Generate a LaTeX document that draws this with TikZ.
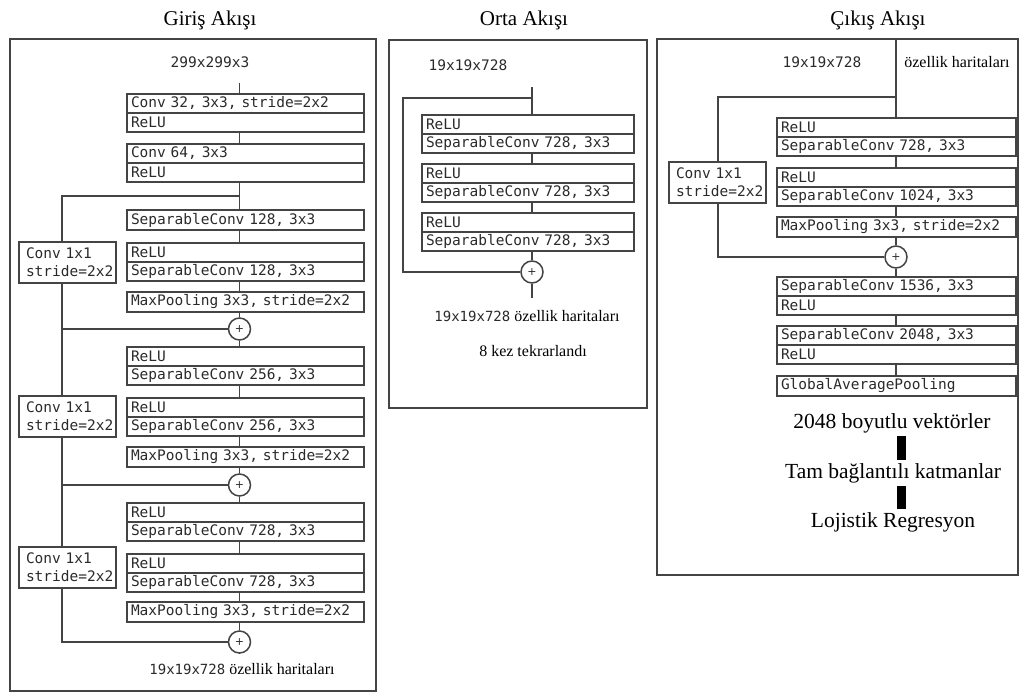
\documentclass[tikz,border=0pt]{standalone}
\usepackage{fontspec}
\setmainfont{Liberation Serif}
\newfontfamily\monof{DejaVu Sans Mono}
\newfontfamily\plusf{DejaVu Sans}
\usetikzlibrary{positioning}
\definecolor{lc}{HTML}{444444}
\definecolor{tc}{HTML}{2a2a2a}

\begin{document}
\begin{tikzpicture}[x=1pt,y=-1pt,
  ln/.style={draw=lc,line width=1.6pt},
  frame/.style={draw=lc,line width=1.6pt},
  lyr/.style={draw=lc,line width=1.5pt,rectangle,outer sep=0pt,inner xsep=4pt,inner ysep=0pt,
    minimum height=19pt,text width=#1,align=left,text=tc,
    font=\fontsize{14.5}{16}\selectfont\monof},
  lw/.style={lyr=229pt},
  mw/.style={lyr=204pt},
  rw/.style={lyr=231pt},
  one/.style={minimum height=20pt},
  sk/.style={draw=lc,line width=1.5pt,rectangle,outer sep=0pt,anchor=north west,
    minimum height=41pt,inner xsep=7pt,text width=83pt,align=left,text=tc,
    font=\fontsize{14.5}{18}\selectfont\monof},
  addn/.style={circle,draw=lc,line width=1.5pt,minimum size=22pt,inner sep=0pt,fill=white,
    text=tc,font=\fontsize{11}{11}\selectfont\plusf},
  ttl/.style={font=\fontsize{21}{24}\selectfont},
  lbl/.style={font=\fontsize{16}{18}\selectfont},
  big/.style={font=\fontsize{21.5}{24}\selectfont,inner sep=3pt},
  mono/.style={font=\fontsize{14.5}{16}\selectfont\monof,text=tc},
  bar/.style={draw=black,line width=9pt}
]
\useasboundingbox (0,0) rectangle (1021,694);

% ---------- titles and panel frames ----------
\node[ttl] (t1) at (210,20) {Giriş Akışı};
\node[ttl] (t2) at (524,20) {Orta Akışı};
\node[ttl] (t3) at (878,20) {Çıkış Akışı};
\draw[frame] (10,39) rectangle (376,691);
\draw[frame] (389,40) rectangle (647,408);
\draw[frame] (657,39) rectangle (1018,575);

% ---------- entry flow ----------
\coordinate (ax) at (239.5,0);
\coordinate (sx) at (62,0);
\node[mono] (in1) at (210,62) {299x299x3};
\coordinate (s1) at (239.5,83);

\node[lw,anchor=north west] (b1a) at (127,94) {Conv 32, 3x3, stride=2x2};
\node[lw,below=0pt of b1a] (b1b) {ReLU};
\node[lw,anchor=north west] (b2a) at (127,144) {Conv 64, 3x3};
\node[lw,below=0pt of b2a] (b2b) {ReLU};
\node[lw,one,anchor=north west] (b3) at (127,210) {SeparableConv 128, 3x3};
\node[lw,anchor=north west] (b4a) at (127,243) {ReLU};
\node[lw,below=0pt of b4a] (b4b) {SeparableConv 128, 3x3};
\node[lw,one,anchor=north west] (b5) at (127,292) {MaxPooling 3x3, stride=2x2};
\node[addn] (p1) at (239.5,329) {+};
\node[lw,anchor=north west] (b6a) at (127,347) {ReLU};
\node[lw,below=0pt of b6a] (b6b) {SeparableConv 256, 3x3};
\node[lw,anchor=north west] (b7a) at (127,398) {ReLU};
\node[lw,below=0pt of b7a] (b7b) {SeparableConv 256, 3x3};
\node[lw,one,anchor=north west] (b8) at (127,447) {MaxPooling 3x3, stride=2x2};
\node[addn] (p2) at (239.5,485) {+};
\node[lw,anchor=north west] (b9a) at (127,503) {ReLU};
\node[lw,below=0pt of b9a] (b9b) {SeparableConv 728, 3x3};
\node[lw,anchor=north west] (b10a) at (127,554) {ReLU};
\node[lw,below=0pt of b10a] (b10b) {SeparableConv 728, 3x3};
\node[lw,one,anchor=north west] (b11) at (127,602) {MaxPooling 3x3, stride=2x2};
\node[addn] (p3) at (239.5,642) {+};
\coordinate (e1) at (239.5,653);
\node[lbl] (o1) at (242,669) {{\fontsize{14}{16}\selectfont\monof\color{tc}19x19x728} özellik haritaları};

\node[sk] (cv1) at (19,242) {Conv 1x1\\stride=2x2};
\node[sk] (cv2) at (19,396) {Conv 1x1\\stride=2x2};
\node[sk] (cv3) at (19,547) {Conv 1x1\\stride=2x2};
\coordinate (j1) at (239.5,196);

\draw[ln] (s1) -- (b1a.north -| ax);
\draw[ln] (b1b.south -| ax) -- (b2a.north -| ax);
\draw[ln] (b2b.south -| ax) -- (b3.north -| ax);
\draw[ln] (b3.south -| ax) -- (b4a.north -| ax);
\draw[ln] (b4b.south -| ax) -- (b5.north -| ax);
\draw[ln] (b5.south -| ax) -- (p1.north);
\draw[ln] (p1.south) -- (b6a.north -| ax);
\draw[ln] (b6b.south -| ax) -- (b7a.north -| ax);
\draw[ln] (b7b.south -| ax) -- (b8.north -| ax);
\draw[ln] (b8.south -| ax) -- (p2.north);
\draw[ln] (p2.south) -- (b9a.north -| ax);
\draw[ln] (b9b.south -| ax) -- (b10a.north -| ax);
\draw[ln] (b10b.south -| ax) -- (b11.north -| ax);
\draw[ln] (b11.south -| ax) -- (p3.north);
\draw[ln] (p3.south) -- (e1);

\draw[ln] (j1) -- (j1 -| sx) -- (cv1.north -| sx);
\draw[ln] (cv1.south -| sx) -- (cv2.north -| sx);
\draw[ln] (p1.west) -- (p1.west -| sx);
\draw[ln] (cv2.south -| sx) -- (cv3.north -| sx);
\draw[ln] (p2.west) -- (p2.west -| sx);
\draw[ln] (cv3.south -| sx) |- (p3.west);

% ---------- middle flow ----------
\coordinate (mx) at (532,0);
\node[mono] (in2) at (468,65) {19x19x728};
\coordinate (s2) at (532,87);
\coordinate (jm) at (532,98);
\coordinate (cm) at (403,98);
\node[mw,anchor=north west] (mAa) at (422,115) {ReLU};
\node[mw,below=0pt of mAa] (mAb) {SeparableConv 728, 3x3};
\node[mw,anchor=north west] (mBa) at (422,164) {ReLU};
\node[mw,below=0pt of mBa] (mBb) {SeparableConv 728, 3x3};
\node[mw,anchor=north west] (mCa) at (422,213) {ReLU};
\node[mw,below=0pt of mCa] (mCb) {SeparableConv 728, 3x3};
\node[addn] (pm) at (532,272) {+};
\coordinate (e2) at (532,298);
\node[lbl] (o2) at (527,316) {{\fontsize{14}{16}\selectfont\monof\color{tc}19x19x728} özellik haritaları};
\node[lbl] (rep) at (533,351) {8 kez tekrarlandı};

\draw[ln] (s2) -- (mAa.north -| mx);
\draw[ln] (mAb.south -| mx) -- (mBa.north -| mx);
\draw[ln] (mBb.south -| mx) -- (mCa.north -| mx);
\draw[ln] (mCb.south -| mx) -- (pm.north);
\draw[ln] (pm.south) -- (e2);
\draw[ln] (jm) -- (cm) |- (pm.west);

% ---------- exit flow ----------
\coordinate (rx) at (896,0);
\coordinate (rsx) at (718,0);
\node[mono] (in3) at (822,62) {19x19x728};
\node[lbl] (in3b) at (957,62) {özellik haritaları};
\coordinate (s3) at (896,39);
\coordinate (jr) at (896,97);
\node[rw,anchor=north west] (r1a) at (777,118) {ReLU};
\node[rw,below=0pt of r1a] (r1b) {SeparableConv 728, 3x3};
\node[rw,anchor=north west] (r2a) at (777,168) {ReLU};
\node[rw,below=0pt of r2a] (r2b) {SeparableConv 1024, 3x3};
\node[rw,one,anchor=north west] (r3) at (777,217) {MaxPooling 3x3, stride=2x2};
\node[addn] (pr) at (896,257) {+};
\node[rw,anchor=north west] (r4a) at (777,277) {SeparableConv 1536, 3x3};
\node[rw,below=0pt of r4a] (r4b) {ReLU};
\node[rw,anchor=north west] (r5a) at (777,326) {SeparableConv 2048, 3x3};
\node[rw,below=0pt of r5a] (r5b) {ReLU};
\node[rw,one,anchor=north west] (r6) at (777,376) {GlobalAveragePooling};
\node[sk] (cv4) at (669,162) {Conv 1x1\\stride=2x2};

\draw[ln] (s3) -- (r1a.north -| rx);
\draw[ln] (r1b.south -| rx) -- (r2a.north -| rx);
\draw[ln] (r2b.south -| rx) -- (r3.north -| rx);
\draw[ln] (r3.south -| rx) -- (pr.north);
\draw[ln] (pr.south) -- (r4a.north -| rx);
\draw[ln] (r4b.south -| rx) -- (r5a.north -| rx);
\draw[ln] (r5b.south -| rx) -- (r6.north -| rx);
\draw[ln] (jr) -- (jr -| rsx) -- (cv4.north -| rsx);
\draw[ln] (cv4.south -| rsx) |- (pr.west);

\node[big] (v1) at (892,423) {2048 boyutlu vektörler};
\node[big] (v2) at (893,473) {Tam bağlantılı katmanlar};
\node[big] (v3) at (893,522) {Lojistik Regresyon};
\coordinate (bx) at (901.5,0);
\draw[bar] (v1.south -| bx) -- (v2.north -| bx);
\draw[bar] (v2.south -| bx) -- (v3.north -| bx);
\end{tikzpicture}
\end{document}
